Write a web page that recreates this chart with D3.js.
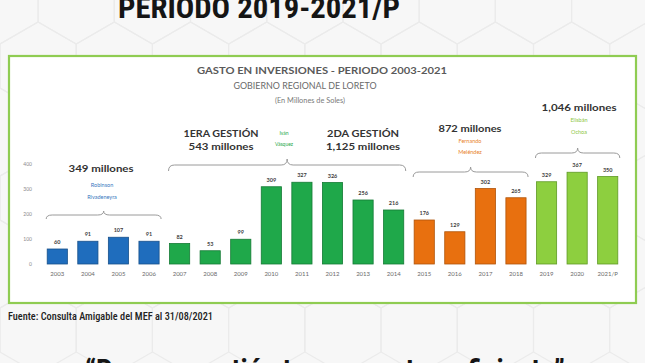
<!DOCTYPE html>
<html><head><meta charset="utf-8">
<script src="https://cdn.jsdelivr.net/npm/d3@7"></script>
<style>html,body{margin:0;padding:0;background:#f7f7f7;overflow:hidden}</style>
</head><body>
<svg id="c" width="645" height="363"></svg>
<script>
const years = ["2003","2004","2005","2006","2007","2008","2009","2010","2011","2012","2013","2014","2015","2016","2017","2018","2019","2020","2021/P"];
const values = [60,91,107,91,82,53,99,309,327,326,256,216,176,129,302,265,329,367,350];
const group = ["rr","rr","rr","rr","iv","iv","iv","iv","iv","iv","iv","iv","fm","fm","fm","fm","eo","eo","eo"];
const yTicks = [0,100,200,300,400];
const groupColor = {rr:"#1f6dbd", iv:"#1fa84a", fm:"#e8700f", eo:"#8dcf3f"};
const groupStroke = {rr:"#17508a", iv:"#157a35", fm:"#b0540a", eo:"#5f9a25"};
const braces = [
  {from:"2003", to:"2006", y:215, h:4},
  {from:"2007", to:"2014", y:165, h:6},
  {from:"2015", to:"2018", y:172, h:5},
  {from:"2019", to:"2021/P", y:153, h:5}
];
const svg = d3.select("#c");
const W=645,H=363;

// background hex pattern
const bg = svg.append("g");
bg.append("rect").attr("width",W).attr("height",H).attr("fill","#f7f7f7");
const R=44, hw=Math.sqrt(3)*R;
for(let row=-1; row<6; row++){
  for(let col=-1; col<9; col++){
    const cx = col*hw + (row%2? hw/2:0), cy = row*R*1.5;
    const pts = d3.range(6).map(i=>{const a=Math.PI/3*i+Math.PI/6;return [cx+R*Math.cos(a), cy+R*Math.sin(a)];});
    bg.append("path").attr("d","M"+pts.join("L")+"Z").attr("fill","none").attr("stroke","#ebebeb").attr("stroke-width",1.2);
  }
}

// Page title (cut off at top)
svg.append("text").attr("x",259).attr("y",18).attr("text-anchor","middle")
  .attr("font-family","'Liberation Sans Narrow','Roboto Condensed','Liberation Sans',Arial,sans-serif")
  .attr("font-weight","bold").attr("font-size",30).attr("fill","#151515")
  .attr("textLength",282).attr("lengthAdjust","spacingAndGlyphs")
  .text("PERIODO 2019-2021/P");

// chart box
svg.append("rect").attr("x",9).attr("y",56).attr("width",627).attr("height",247)
  .attr("fill","#ffffff").attr("stroke","#8fcc52").attr("stroke-width",2.2);

const F = "Lato, 'Open Sans', 'Liberation Sans', sans-serif";
svg.append("text").attr("x",322).attr("y",74).attr("text-anchor","middle").attr("font-family",F)
  .attr("font-weight","bold").attr("font-size",10).attr("fill","#5a5a5a")
  .attr("textLength",250).attr("lengthAdjust","spacingAndGlyphs").text("GASTO EN INVERSIONES - PERIODO 2003-2021");
svg.append("text").attr("x",305).attr("y",89).attr("text-anchor","middle").attr("font-family",F)
  .attr("font-size",10).attr("fill","#6a6a6a")
  .attr("textLength",143).attr("lengthAdjust","spacingAndGlyphs").text("GOBIERNO REGIONAL DE LORETO");
svg.append("text").attr("x",310).attr("y",103).attr("text-anchor","middle").attr("font-family",F)
  .attr("font-size",7.5).attr("fill","#7a7a7a")
  .attr("textLength",70).attr("lengthAdjust","spacingAndGlyphs").text("(En Millones de Soles)");

// scales
const x = d3.scaleBand().domain(years).range([42,623]).paddingInner(0.34).paddingOuter(0.17);
const y = d3.scaleLinear().domain([0,400]).range([264,164]);

// y axis
const ya = svg.append("g").attr("transform","translate(32,0)")
  .call(d3.axisLeft(y).tickValues(yTicks).tickSize(0).tickPadding(0));
ya.select(".domain").remove();
ya.selectAll("text").attr("font-family",F).attr("font-size",5).attr("fill","#8a8a8a");

// x axis
const xa = svg.append("g").attr("transform","translate(0,272)")
  .call(d3.axisBottom(x).tickSize(0).tickPadding(0));
xa.select(".domain").remove();
xa.selectAll("text").attr("font-family",F).attr("font-size",6).attr("fill","#6a6a6a");

// bars
svg.append("g").selectAll("rect").data(years).join("rect")
  .attr("x",d=>x(d)).attr("width",x.bandwidth())
  .attr("y",(d,i)=>y(values[i])).attr("height",(d,i)=>y(0)-y(values[i]))
  .attr("fill",(d,i)=>groupColor[group[i]])
  .attr("stroke",(d,i)=>groupStroke[group[i]]).attr("stroke-width",0.8);

// value labels
svg.append("g").selectAll("text").data(years).join("text")
  .attr("x",d=>x(d)+x.bandwidth()/2).attr("y",(d,i)=>y(values[i])-5)
  .attr("text-anchor","middle").attr("font-family",F).attr("font-weight","bold")
  .attr("font-size",5.5).attr("fill","#404040")
  .text((d,i)=>values[i]);

// braces
function bracePath(x1,x2,yy,h){
  const xm=(x1+x2)/2, r=6, p=d3.path();
  p.moveTo(x1,yy+h);
  p.quadraticCurveTo(x1,yy,x1+r,yy);
  p.lineTo(xm-r,yy);
  p.quadraticCurveTo(xm,yy,xm,yy-h);
  p.quadraticCurveTo(xm,yy,xm+r,yy);
  p.lineTo(x2-r,yy);
  p.quadraticCurveTo(x2,yy,x2,yy+h);
  return p.toString();
}
const bg2 = svg.append("g");
braces.forEach(b=>{
  const x1=x(b.from)-1, x2=x(b.to)+x.bandwidth()+2;
  bg2.append("path").attr("d",bracePath(x1,x2,b.y,b.h)).attr("fill","none")
    .attr("stroke","#9a9a9a").attr("stroke-width",1);
});

function label(xx,yy,txt,size,weight,color,len){
  const t=svg.append("text").attr("x",xx).attr("y",yy).attr("text-anchor","middle")
    .attr("font-family",F).attr("font-size",size).attr("font-weight",weight).attr("fill",color).text(txt);
  if(len) t.attr("textLength",len).attr("lengthAdjust","spacingAndGlyphs");
}
// group 1
label(101,172,"349 millones",10,"bold","#333",65);
label(102,187,"Robinson",5.5,"normal","#3a78c0");
label(102,199,"Rivadeneyra",5.5,"normal","#3a78c0");
// group 2
label(221,137,"1ERA GESTIÓN",10,"bold","#333",75);
label(221,150,"543 millones",10,"bold","#333",65);
label(284,135,"Iván",5,"normal","#1fa84a");
label(284,146,"Vásquez",5,"normal","#1fa84a");
label(363,137,"2DA GESTIÓN",10,"bold","#333",72);
label(363,150,"1,125 millones",10,"bold","#333",74);
// group 3
label(470,132,"872 millones",10,"bold","#333",63);
label(470,143,"Fernando",5.5,"normal","#e8822a");
label(470,154,"Meléndez",5.5,"normal","#e8822a");
// group 4
label(579,111,"1,046 millones",10,"bold","#333",75);
label(579,122,"Elisbán",5.5,"normal","#8dc63f");
label(579,134,"Ochoa",5.5,"normal","#8dc63f");

// source
svg.append("text").attr("x",8).attr("y",320)
  .attr("font-family","'Liberation Sans Narrow','Roboto Condensed',Roboto,sans-serif")
  .attr("font-size",10).attr("fill","#222").attr("font-weight","500")
  .attr("textLength",205).attr("lengthAdjust","spacingAndGlyphs")
  .text("Fuente: Consulta Amigable del MEF al 31/08/2021");

// bottom quote (cut off)
svg.append("text").attr("x",325).attr("y",380).attr("text-anchor","middle")
  .attr("font-family","'Liberation Sans Narrow','Roboto Condensed','Liberation Sans',sans-serif")
  .attr("font-size",30).attr("font-weight","bold").attr("fill","#151515")
  .attr("textLength",480).attr("lengthAdjust","spacingAndGlyphs")
  .text("“Por una gestión transparente y eficiente”");
</script>
</body></html>
